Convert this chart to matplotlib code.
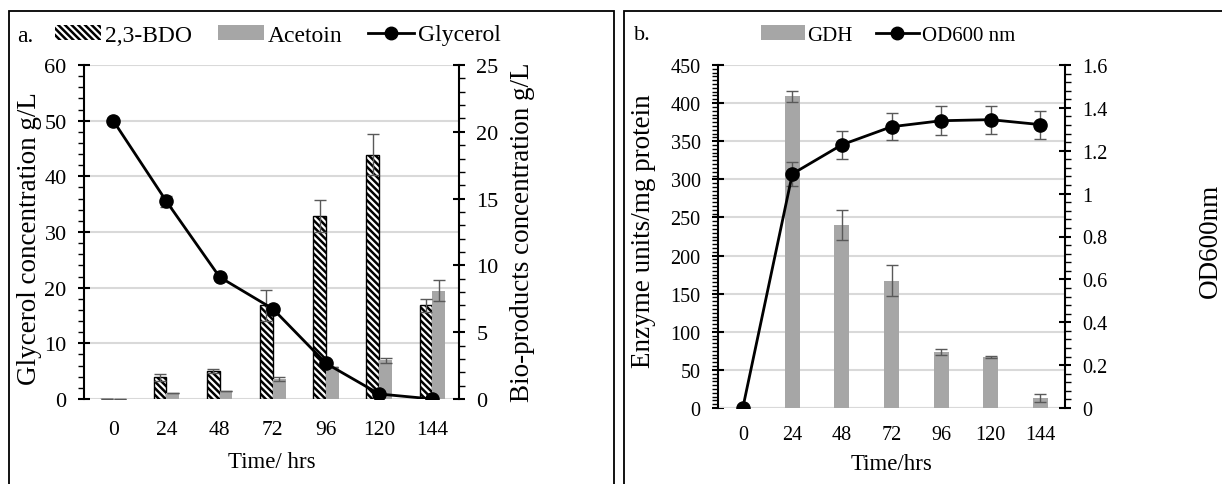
import numpy as np
import matplotlib
matplotlib.use("Agg")
import matplotlib.pyplot as plt
from matplotlib.patches import Patch, Rectangle
from matplotlib.lines import Line2D
from matplotlib.ticker import MultipleLocator

plt.rcParams['font.family'] = ['Liberation Serif', 'DejaVu Serif']
plt.rcParams['hatch.linewidth'] = 1.8

# data
times = ['0', '24', '48', '72', '96', '120', '144']

glycerol = [50.0, 35.5, 21.9, 16.2, 6.4, 0.9, 0.0]
glycerol_err = [0.0, 1.0, 0.0, 0.0, 0.0, 0.0, 0.0]
bdo = [0.0, 1.62, 2.09, 7.0, 13.7, 18.3, 7.0]
bdo_err = [0.0, 0.25, 0.15, 1.15, 1.2, 1.5, 0.5]
acetoin = [0.0, 0.43, 0.62, 1.5, 2.4, 2.9, 8.1]
acetoin_err = [0.0, 0.0, 0.0, 0.15, 0.0, 0.2, 0.8]

gdh = [0.0, 409, 240, 167, 74, 67, 13]
gdh_err = [0.0, 7, 20, 20, 4, 1, 5]
od600 = [0.0, 1.092, 1.228, 1.312, 1.340, 1.345, 1.322]
od600_err = [0.0, 0.055, 0.065, 0.063, 0.067, 0.065, 0.065]

W, H = 1222, 485
fig = plt.figure(figsize=(W / 100, H / 100), dpi=100)

grey = '#a6a6a6'
grid_c = '#d9d9d9'
err_c = '#595959'
fs_ylab = 19.5
fs_xlab = 16.5
hatch = '\\' * 5


def px_axes(l, r, t, b):
    return fig.add_axes([l / W, 1 - b / H, (r - l) / W, (b - t) / H])


def style_axis(a, side, ysize, xsize):
    for s in ['top', 'bottom', 'left', 'right']:
        a.spines[s].set_visible(False)
    a.spines[side].set_visible(True)
    a.spines[side].set_linewidth(1.5)
    a.tick_params(axis='y', which='major', direction='inout', length=9, width=1.5,
                  labelsize=ysize, pad=8)
    a.tick_params(axis='y', which='minor', direction='out', length=4, width=1)
    a.tick_params(axis='x', length=0, labelsize=xsize, pad=15)


x = np.arange(len(times))

# ---------- panel a ----------
ax = px_axes(84, 459, 66, 400)
axr = ax.twinx()
axr.set_zorder(1)
ax.set_zorder(2)
ax.patch.set_visible(False)

for v in np.arange(0, 61, 10):
    axr.axhline(v * 25 / 60, color=grid_c, lw=1.5, zorder=0)

w = 0.24
axr.bar(x - w / 2, bdo, w, color='white', edgecolor='black', hatch=hatch, lw=1, zorder=2)
axr.bar(x + w / 2, acetoin, w, color=grey, zorder=2)
axr.errorbar(x - w / 2, bdo, yerr=bdo_err, fmt='none', ecolor=err_c, elinewidth=1, capsize=4, zorder=3)
axr.errorbar(x + w / 2, acetoin, yerr=acetoin_err, fmt='none', ecolor=err_c, elinewidth=1, capsize=4, zorder=3)

ax.errorbar(x, glycerol, yerr=glycerol_err, fmt='none', ecolor=err_c, elinewidth=1, capsize=4)
ax.plot(x, glycerol, color='black', lw=2, marker='o', ms=9.5)

ax.set_xlim(-0.55, 6.5)
ax.set_ylim(0, 60)
axr.set_ylim(0, 25)
ax.yaxis.set_major_locator(MultipleLocator(10))
ax.yaxis.set_minor_locator(MultipleLocator(2))
axr.yaxis.set_major_locator(MultipleLocator(5))
axr.yaxis.set_minor_locator(MultipleLocator(1))
style_axis(ax, 'left', 16, 15.5)
style_axis(axr, 'right', 16, 15.5)
ax.set_xticks(x)
ax.set_xticklabels(times)
ax.set_ylabel('Glycerol concentration g/L', fontsize=fs_ylab)
ax.yaxis.set_label_coords(-0.113, 0.483)
axr.set_ylabel('Bio-products concentration g/L', fontsize=fs_ylab)
axr.yaxis.set_label_coords(1.136, 0.503)
ax.set_xlabel('Time/ hrs', fontsize=fs_xlab)
ax.xaxis.set_label_coords(0.5, -0.156)

# ---------- panel b ----------
bx = px_axes(718, 1065, 66, 409)
bxr = bx.twinx()
bx.set_axisbelow(True)
bx.yaxis.grid(True, which='major', color=grid_c, lw=1.5)

bx.bar(x, gdh, 0.3, color=grey, zorder=2)
bx.errorbar(x, gdh, yerr=gdh_err, fmt='none', ecolor=err_c, elinewidth=1, capsize=4, zorder=3)
bxr.errorbar(x, od600, yerr=od600_err, fmt='none', ecolor=err_c, elinewidth=1, capsize=4)
bxr.plot(x, od600, color='black', lw=2, marker='o', ms=9.5)
bx.axhline(0, color=grid_c, lw=1.5, zorder=1)

bx.set_xlim(-0.5, 6.5)
bx.set_ylim(0, 450)
bxr.set_ylim(0, 1.6)
bx.yaxis.set_major_locator(MultipleLocator(50))
bx.yaxis.set_minor_locator(MultipleLocator(5))
bxr.yaxis.set_major_locator(MultipleLocator(0.2))
bxr.yaxis.set_minor_locator(MultipleLocator(0.04))
style_axis(bx, 'left', 14.5, 14.5)
style_axis(bxr, 'right', 14.5, 14.5)
bxr.set_yticks(np.arange(0, 1.61, 0.2))
bxr.set_yticklabels(['0', '0.2', '0.4', '0.6', '0.8', '1', '1.2', '1.4', '1.6'])
bx.set_xticks(x)
bx.set_xticklabels(times)
bx.tick_params(axis='x', pad=12)
bx.set_ylabel('Enzyme units/mg protein', fontsize=fs_ylab)
bx.yaxis.set_label_coords(-0.178, 0.517)
bxr.set_ylabel('OD600nm', fontsize=fs_ylab)
bxr.yaxis.set_label_coords(1.382, 0.49)
bx.set_xlabel('Time/hrs', fontsize=fs_xlab)
bx.xaxis.set_label_coords(0.5, -0.131)

# panel frames
fig.add_artist(Rectangle((9 / W, -0.1), (614 - 9) / W, 1.1 - 12 / H, transform=fig.transFigure,
                         fill=False, ec='black', lw=1.3))
fig.add_artist(Rectangle((624 / W, -0.1), (1260 - 624) / W, 1.1 - 12 / H, transform=fig.transFigure,
                         fill=False, ec='black', lw=1.3))

# legends
fig.text(17 / W, 1 - 36 / H, 'a.', fontsize=17, va='center')
fig.text(634 / W, 1 - 36 / H, 'b.', fontsize=16, va='center')
h_a = [Patch(facecolor='white', edgecolor='black', lw=0, hatch=hatch),
       Patch(facecolor=grey, edgecolor='none'),
       Line2D([], [], color='black', lw=2, marker='o', ms=9)]
fig.legend(h_a, ['2,3-BDO', 'Acetoin', 'Glycerol'], loc='center', ncol=3,
           bbox_to_anchor=(278 / W, 1 - 36 / H), frameon=False, fontsize=17,
           handlelength=1.95, handleheight=0.6, handletextpad=0.15, columnspacing=1.1)
h_b = [Patch(facecolor=grey, edgecolor='none'),
       Line2D([], [], color='black', lw=2, marker='o', ms=9)]
fig.legend(h_b, ['GDH', 'OD600 nm'], loc='center', ncol=2,
           bbox_to_anchor=(888 / W, 1 - 36 / H), frameon=False, fontsize=15,
           handlelength=2.1, handleheight=0.7, handletextpad=0.12, columnspacing=1.1)

fig.savefig('out.png', dpi=100)
